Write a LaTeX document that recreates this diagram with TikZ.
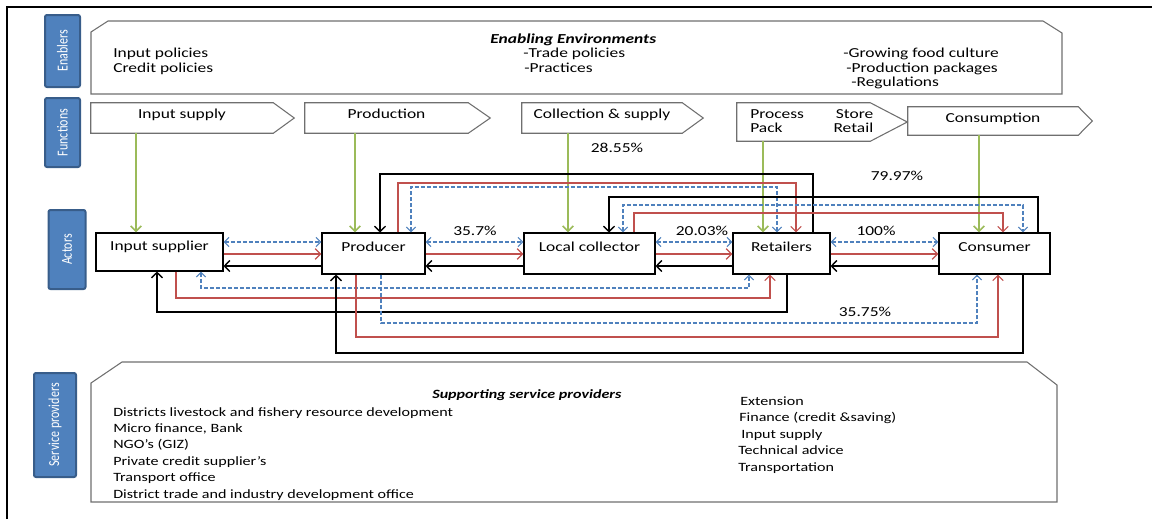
\documentclass[tikz,border=0pt]{standalone}
\usepackage{fontspec}
\usepackage{graphicx}
\setmainfont{Carlito}[FakeStretch=1.27]
\newfontfamily\sidefont{Carlito}
\usetikzlibrary{arrows.meta}
\definecolor{labfill}{HTML}{4F81BD}
\definecolor{labedge}{HTML}{385D8A}
\definecolor{cred}{HTML}{C0504D}
\definecolor{cblue}{HTML}{4F81BD}
\definecolor{cgreen}{HTML}{9BBB59}
\definecolor{edgegray}{HTML}{6F6F6F}
\newcommand\svfont{\fontsize{9.5}{11}\selectfont}
\begin{document}
\begin{tikzpicture}[x=0.75pt,y=-0.75pt,
  font=\fontsize{10.3}{12}\selectfont,
  box/.style 2 args={minimum width=#1*0.75pt, minimum height=#2*0.75pt},
  sidelab/.style={draw=labedge, line width=1.5pt, fill=labfill, rounded corners=1.5pt,
    rotate=90, text=white, inner sep=0pt, font=\sidefont\fontsize{9}{10}\selectfont},
  actor/.style={draw, line width=0.8pt, fill=white, inner sep=0pt,
    text height=8pt, text depth=11pt},
  fn/.style={inner sep=0pt, text height=8pt, text depth=8pt},
  outline/.style={draw=edgegray, line width=0.8pt},
  gline/.style={cgreen, line width=1.2pt, -{Straight Barb[length=4pt,width=8pt]}},
  kline/.style={black, line width=1pt, >={Straight Barb[length=4pt,width=8.25pt]}},
  rline/.style={cred, line width=0.8pt, >={Straight Barb[length=4pt,width=8pt]}},
  bline/.style={cblue, line width=0.8pt, dash pattern=on 3pt off 1.5pt,
    >={Straight Barb[length=3.5pt,width=7pt]}},
  pct/.style={anchor=base},
  txt/.style={anchor=base west, inner sep=0pt}
]
\useasboundingbox (0,0) rectangle (1152,519);

% outer frame
\draw[line width=1.5pt, line join=miter] (7,519) -- (7,7) -- (1152,7);

% row labels
\node[sidelab, box={72}{35}] (labEn) at (62.5,51) {\scalebox{1}[1.27]{Enablers}};
\node[sidelab, box={69}{35}] (labFn) at (62.5,132.5) {\scalebox{1}[1.27]{Functions}};
\node[sidelab, box={79}{37}] (labAc) at (67,249.5) {\scalebox{1}[1.27]{Actors}};
\node[sidelab, box={104}{42}] (labSp) at (55,425) {\scalebox{1}[1.27]{Service providers}};

% enabling environments panel
\draw[outline] (91,32) -- (108,21) -- (1043,21) -- (1062,33) -- (1062,94) -- (91,94) -- cycle;
\node[txt, font=\fontsize{10.3}{12}\selectfont\bfseries\itshape] (ee) at (490,43) {Enabling Environments};
\node[txt] (e1) at (113,57) {Input policies};
\node[txt] (e2) at (113,72) {Credit policies};
\node[txt] (e3) at (523,57) {-Trade policies};
\node[txt] (e4) at (524,72) {-Practices};
\node[txt] (e5) at (843,57) {-Growing food culture};
\node[txt] (e6) at (846,72) {-Production packages};
\node[txt] (e7) at (851,86) {-Regulations};

% value chain functions
\node[fn, box={182}{30}] (f1) at (182,118) {Input supply};
\node[fn, box={163}{30}] (f2) at (386.5,118) {Production};
\node[fn, box={160}{30}] (f3) at (602,118) {Collection \& supply};
\node[fn, box={133}{38}] (f4) at (803.5,122) {};
\node[txt, font=\fontsize{10.3}{10.5}\selectfont] (f4t) at (750,118.5)
  {\begin{tabular*}{92.25pt}[t]{@{}l@{\extracolsep{\fill}}r@{}}Process & Store\\ Pack & Retail\end{tabular*}};
\node[fn, box={170}{28}, text height=9.3pt, text depth=6.7pt] (f5) at (993,121) {Consumption};
\draw[outline] (f1.north west) -- (f1.north east) -- ([xshift=15.75pt]f1.east) -- (f1.south east) -- (f1.south west) -- cycle;
\draw[outline] (f2.north west) -- (f2.north east) -- ([xshift=16.5pt]f2.east) -- (f2.south east) -- (f2.south west) -- cycle;
\draw[outline] (f3.north west) -- (f3.north east) -- ([xshift=15.75pt]f3.east) -- (f3.south east) -- (f3.south west) -- cycle;
\draw[outline] (f4.north west) -- (f4.north east) -- ([xshift=27.75pt]f4.east) -- (f4.south east) -- (f4.south west) -- cycle;
\draw[outline] (f5.north west) -- (f5.north east) -- ([xshift=10.5pt]f5.east) -- (f5.south east) -- (f5.south west) -- cycle;

% actors
\node[actor, box={127}{38}] (inp) at (159.5,252) {Input supplier};
\node[actor, box={103}{41}] (prod) at (373.5,253.5) {Producer};
\node[actor, box={131}{41}] (coll) at (589.5,253.5) {Local collector};
\node[actor, box={97}{41}] (ret) at (781.5,253.5) {Retailers};
\node[actor, box={111}{41}] (cons) at (994.5,253.5) {Consumer};

% functions feeding actors
\draw[gline] (f1.south -| 136,0) -- (inp.north -| 136,0);
\draw[gline] (f2.south -| 355,0) -- (prod.north -| 355,0);
\draw[gline] (f3.south -| 568,0) -- (coll.north -| 568,0);
\draw[gline] (f4.south -| 763,0) -- (ret.north -| 763,0);
\draw[gline] (f5.south -| 979,0) -- (cons.north -| 979,0);

% links between neighbouring actors
\foreach \a/\b in {inp/prod, prod/coll, coll/ret, ret/cons} {
  \draw[bline,<->] (\a.east |- 0,242) -- (\b.west |- 0,242);
  \draw[rline,->, line width=1pt] (\a.east |- 0,254) -- (\b.west |- 0,254);
  \draw[kline,<-] (\a.east |- 0,266) -- (\b.west |- 0,266);
}

% producer -- retailers, routed above
\draw[kline,->] (ret.north -| 813,0) |- (380,174) -- (prod.north -| 380,0);
\draw[rline,->] (prod.north -| 398,0) |- (796,183) -- (ret.north -| 796,0);
\draw[bline,<->] (prod.north -| 411,0) |- (777,187) -- (ret.north -| 777,0);
% local collector -- consumer, routed above
\draw[kline,->] (cons.north -| 1038,0) |- (609,197) -- (coll.north -| 609,0);
\draw[bline,<->] (coll.north -| 623,0) |- (1023,205) -- (cons.north -| 1023,0);
\draw[rline,->] (coll.north -| 634,0) |- (1003,213) -- (cons.north -| 1003,0);
% input supplier -- retailers, routed below
\draw[bline,<->] (inp.south -| 201,0) |- (749,288) -- (ret.south -| 749,0);
\draw[rline,->] (inp.south -| 176,0) |- (770,298) -- (ret.south -| 770,0);
\draw[kline,->] (ret.south -| 787,0) |- (157,312) -- (inp.south -| 157,0);
% producer -- consumer, routed below
\draw[bline,->] (prod.south -| 381,0) |- (977,323) -- (cons.south -| 977,0);
\draw[rline,->] (prod.south -| 356,0) |- (998,337) -- (cons.south -| 998,0);
\draw[kline,->] (cons.south -| 1023,0) |- (336,353) -- (prod.south -| 336,0);

% shares
\node[pct] (p1) at (617,152.7) {28.55\%};
\node[pct] (p2) at (897,180) {79.97\%};
\node[pct] (p3) at (475,235) {35.7\%};
\node[pct] (p4) at (702,235) {20.03\%};
\node[pct] (p5) at (876,235) {100\%};
\node[pct] (p6) at (865,316.7) {35.75\%};

% supporting service providers panel
\draw[outline] (91,383) -- (122,362) -- (1027,362) -- (1057,385) -- (1057,502) -- (91,502) -- cycle;
\node[txt, font=\svfont\bfseries\itshape] (sp) at (432,398) {Supporting service providers};
\foreach \t [count=\i from 0] in {{Districts livestock and fishery resource development},
    {Micro finance, Bank}, {NGO’s (GIZ)}, {Private credit supplier’s}, {Transport office},
    {District trade and industry development office}}
  \node[txt, font=\svfont] (sl\i) at (113,416+16.4*\i) {\t};
\foreach \x/\t [count=\i from 0] in {740/Extension, 739/{Finance (credit \&saving)},
    741/{Input supply}, 738/{Technical advice}, 738/Transportation}
  \node[txt, font=\svfont] (sr\i) at (\x,405+16.5*\i) {\t};
\end{tikzpicture}
\end{document}
